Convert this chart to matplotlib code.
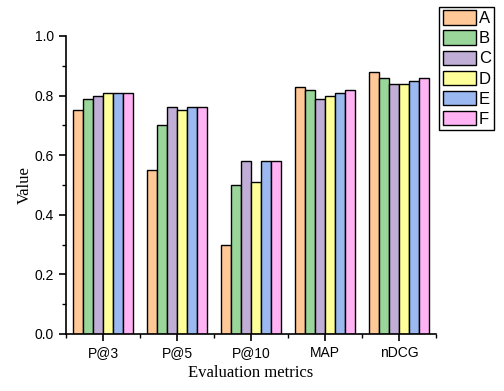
import matplotlib.pyplot as plt
import numpy as np
from matplotlib.ticker import MultipleLocator

# data
metrics = ['P@3', 'P@5', 'P@10', 'MAP', 'nDCG']
methods = ['A', 'B', 'C', 'D', 'E', 'F']
vals_A = [0.75, 0.55, 0.30, 0.83, 0.88]
vals_B = [0.79, 0.70, 0.50, 0.82, 0.86]
vals_C = [0.80, 0.76, 0.58, 0.79, 0.84]
vals_D = [0.81, 0.75, 0.51, 0.80, 0.84]
vals_E = [0.81, 0.76, 0.58, 0.81, 0.85]
vals_F = [0.81, 0.76, 0.58, 0.82, 0.86]
colors = ['#FFC896', '#9AD69A', '#C0AED6', '#FFFF99', '#9BB9F0', '#FFB3F5']


def main():
    series = [vals_A, vals_B, vals_C, vals_D, vals_E, vals_F]
    fig = plt.figure(figsize=(5.04, 3.91), dpi=100)
    ax = fig.add_axes([0.131, 0.146, 0.734, 0.762])

    x = np.arange(len(metrics))
    w = 0.135
    for i, (vals, c, name) in enumerate(zip(series, colors, methods)):
        ax.bar(x + (i - 2.5) * w, vals, w, color=c, edgecolor='black',
               linewidth=1.0, label=name)

    ax.set_xlim(-0.5, len(metrics) - 0.5)
    ax.set_ylim(0, 1.0)
    ax.spines['top'].set_visible(False)
    ax.spines['right'].set_visible(False)
    ax.spines['left'].set_linewidth(1.2)
    ax.spines['bottom'].set_linewidth(1.2)

    ax.set_xticks(x)
    ax.set_xticklabels(metrics, family='Liberation Sans', fontsize=10)
    ax.set_xticks(np.arange(-0.5, len(metrics)), minor=True)
    ax.yaxis.set_major_locator(MultipleLocator(0.2))
    ax.yaxis.set_minor_locator(MultipleLocator(0.1))
    ax.set_yticks(np.arange(0, 1.01, 0.2))
    ax.set_yticklabels([f'{v:.1f}' for v in np.arange(0, 1.01, 0.2)],
                       family='Liberation Sans', fontsize=10)
    ax.tick_params(which='major', direction='out', length=5, width=1.2)
    ax.tick_params(which='minor', direction='out', length=3, width=1.0)

    ax.set_xlabel('Evaluation metrics', family='Liberation Serif', fontsize=12)
    ax.set_ylabel('Value', family='Liberation Serif', fontsize=12)
    ax.yaxis.set_label_coords(-0.09, 0.5)

    leg = fig.legend(loc='upper left', bbox_to_anchor=(0.872, 0.982),
                     prop={'family': 'Liberation Sans', 'size': 12},
                     handlelength=2.0, handleheight=0.95, handletextpad=0.15,
                     labelspacing=0.25, borderpad=0.2, borderaxespad=0,
                     fancybox=False, framealpha=1)
    leg.get_frame().set_edgecolor('black')
    leg.get_frame().set_linewidth(1.0)

    fig.savefig('out.png', dpi=100)


if __name__ == '__main__':
    main()
